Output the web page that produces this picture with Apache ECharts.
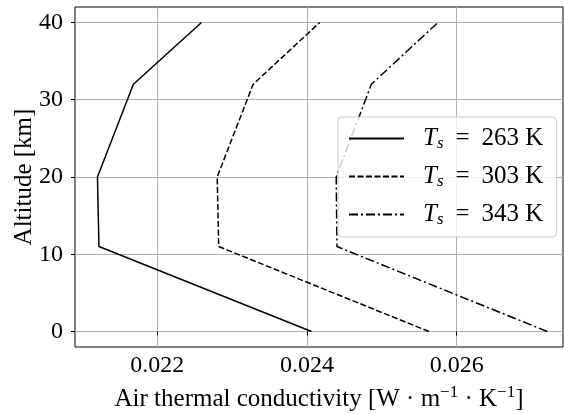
<!DOCTYPE html>
<html>
<head>
<meta charset="utf-8">
<script src="https://cdn.jsdelivr.net/npm/echarts@6/dist/echarts.min.js"></script>
<style>
  html, body { margin: 0; padding: 0; background: #fff; }
  #chart { width: 564px; height: 414px; }
</style>
</head>
<body>
<div id="chart"></div>
<script>
// Altitude levels [km]
const altitudes = [0, 11, 20, 32, 40];
// Thermal conductivity [W m^-1 K^-1] per surface temperature
const k263 = [0.02406, 0.02122, 0.02120, 0.02168, 0.02259];
const k303 = [0.02563, 0.02282, 0.02280, 0.02328, 0.02417];
const k343 = [0.02721, 0.02440, 0.02439, 0.02486, 0.02575];
const seriesNames = ['263', '303', '343'];
const xTicks = [0.022, 0.024, 0.026];
const yTicks = [0, 10, 20, 30, 40];

const FONT = "'Liberation Serif', 'DejaVu Serif', serif";

const chart = echarts.init(document.getElementById('chart'));

const dashes = ['solid', [6, 2.5], [9, 3, 2, 3]];
const allData = [k263, k303, k343];

const series = allData.map((vals, i) => ({
    name: seriesNames[i],
    type: 'line',
    symbol: 'none',
    data: vals.map((v, j) => [v, altitudes[j]]),
    lineStyle: { color: '#000', width: 1.5, type: dashes[i] },
    itemStyle: { color: '#000' }
}));

const gridLine = { show: true, lineStyle: { color: '#b0b0b0', width: 1 } };

const option = {
    backgroundColor: '#fff',
    animation: false,
    grid: {
        left: 75, right: 1, top: 7, bottom: 67,
        outerBoundsMode: 'none',
        containLabel: false,
        show: true, borderColor: '#000', borderWidth: 1,
        backgroundColor: 'transparent'
    },
    xAxis: {
        type: 'value',
        min: 0.0209,
        max: 0.02742,
        axisLine: { show: false },
        axisTick: { show: true, length: 4, lineStyle: { color: '#000' }, customValues: xTicks },
        axisLabel: {
            customValues: xTicks,
            color: '#000', fontSize: 24, fontFamily: FONT, margin: 7,
            formatter: v => v.toFixed(3)
        },
        splitLine: gridLine,
        name: 'Air thermal conductivity [W · m{sup|−1} · K{sup|−1}]',
        nameLocation: 'middle',
        nameGap: 37,
        nameMoveOverlap: false,
        nameTextStyle: {
            color: '#000', fontSize: 25, fontFamily: FONT,
            rich: {
                sup: { fontSize: 17, fontFamily: FONT, color: '#000', verticalAlign: 'top', padding: [0, 0, 13, 0] }
            }
        }
    },
    yAxis: {
        type: 'value',
        min: -2,
        max: 42,
        axisLine: { show: false },
        axisTick: { show: true, length: 4, lineStyle: { color: '#000' }, customValues: yTicks },
        axisLabel: {
            customValues: yTicks,
            color: '#000', fontSize: 24, fontFamily: FONT, margin: 12
        },
        splitLine: gridLine,
        name: 'Altitude [km]',
        nameLocation: 'middle',
        nameGap: 38,
        nameMoveOverlap: false,
        nameTextStyle: { color: '#000', fontSize: 25, fontFamily: FONT }
    },
    legend: {
        show: true,
        orient: 'vertical',
        left: 338,
        top: 117,
        padding: [9, 13, 9, 10],
        itemWidth: 55,
        itemHeight: 10,
        itemGap: 12,
        backgroundColor: 'rgba(255,255,255,0.8)',
        borderColor: '#cccccc',
        borderWidth: 1,
        borderRadius: 4,
        itemStyle: { opacity: 0 },
        data: seriesNames,
        formatter: name => '{t|T}{s|s}{e|=}{n|' + name + ' K}',
        textStyle: {
            color: '#000', fontFamily: FONT, fontSize: 25, padding: [0, 0, 0, 14],
            rich: {
                t: { fontStyle: 'italic', fontSize: 25, fontFamily: FONT, color: '#000' },
                s: { fontStyle: 'italic', fontSize: 17, fontFamily: FONT, color: '#000', verticalAlign: 'bottom', padding: [10, 0, 0, 0] },
                e: { fontSize: 25, fontFamily: FONT, color: '#000', padding: [0, 12, 0, 12] },
                n: { fontSize: 25, fontFamily: FONT, color: '#000' }
            }
        }
    },
    series: series
};

chart.setOption(option);
</script>
</body>
</html>
